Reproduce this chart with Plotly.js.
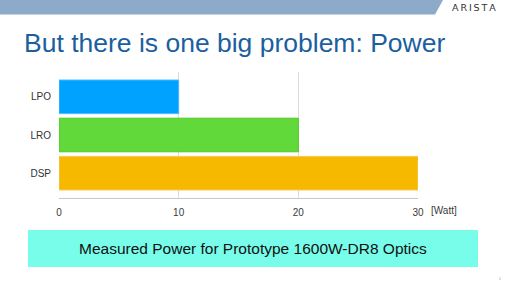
<!DOCTYPE html>
<html>
<head>
<meta charset="utf-8">
<script src="https://cdn.plot.ly/plotly-3.0.1.min.js"></script>
<style>html,body{margin:0;padding:0;background:#fff;}#chart{width:512px;height:287px;}</style>
</head>
<body>
<div id="chart"></div>
<script>
// Data
var categories = ['LPO', 'LRO', 'DSP'];
var powerWatt = [10, 20, 30];
var barColors = ['#00a2ff', '#62d93b', '#f6b900'];
var barLineColors = ['#4dbaff', '#4fcb22', '#f5c85a'];
var xTickValues = [0, 10, 20, 30];
var unitLabel = '[Watt]';
var titleText = 'But there is one big problem: Power';
var captionText = 'Measured Power for Prototype 1600W-DR8 Optics';
var logoText = 'ARISTA';

var W = 512, H = 287;
var L = 59, R = 418, T = 72, B = 198;
function px(x) { return (x - L) / (R - L); }
function py(y) { return (B - y) / (B - T); }

var trace = {
  type: 'bar',
  orientation: 'h',
  y: categories,
  x: powerWatt,
  marker: { color: barColors, line: { color: barLineColors, width: 1 } },
  width: 0.88,
  hoverinfo: 'none'
};

var layout = {
  width: W, height: H,
  margin: { l: L, r: W - R, t: T, b: H - B, pad: 0 },
  paper_bgcolor: '#ffffff',
  plot_bgcolor: '#ffffff',
  showlegend: false,
  font: { family: 'Liberation Sans, Arial, sans-serif', color: '#333333' },
  title: {
    text: titleText,
    font: { family: 'Liberation Sans, Arial, sans-serif', size: 26.5, color: '#1c5f9e' },
    xref: 'container', yref: 'container',
    x: 24 / W, xanchor: 'left',
    y: 1 - 43 / H, yanchor: 'middle'
  },
  xaxis: {
    range: [0, 30],
    tickvals: xTickValues,
    ticktext: xTickValues.map(String),
    showgrid: true, gridcolor: '#dcdcdc', gridwidth: 1,
    zeroline: false,
    showline: true, linecolor: '#c8c8c8', linewidth: 1,
    ticks: 'outside', ticklen: 5, tickcolor: 'rgba(0,0,0,0)',
    tickfont: { size: 10, color: '#3a3a3a' },
    fixedrange: true
  },
  yaxis: {
    type: 'category',
    categoryorder: 'array', categoryarray: categories,
    range: [2.65, -0.65],
    showgrid: false, zeroline: false, showline: false,
    ticks: 'outside', ticklen: 5, tickcolor: 'rgba(0,0,0,0)',
    tickfont: { size: 10, color: '#333333' },
    fixedrange: true
  },
  shapes: [
    { type: 'path', xref: 'paper', yref: 'paper', layer: 'below',
      path: 'M ' + px(0) + ' ' + py(0) + ' L ' + px(443) + ' ' + py(0) + ' L ' + px(435) + ' ' + py(14.5) + ' L ' + px(0) + ' ' + py(14.5) + ' Z',
      fillcolor: '#8eaac9', line: { width: 0 } },
    { type: 'rect', xref: 'paper', yref: 'paper', layer: 'below',
      x0: px(28), x1: px(478), y0: py(230), y1: py(267),
      fillcolor: '#77fdea', line: { width: 0 } }
  ],
  annotations: [
    { xref: 'paper', yref: 'paper', x: px(429), y: py(210), xanchor: 'left', yanchor: 'middle',
      text: unitLabel, showarrow: false, font: { size: 10, color: '#3a3a3a' } },
    { xref: 'paper', yref: 'paper', x: px(253), y: py(248.5), xanchor: 'center', yanchor: 'middle',
      text: captionText, showarrow: false, font: { size: 15.5, color: '#111111' } },
    { xref: 'paper', yref: 'paper', x: px(474), y: py(7), xanchor: 'center', yanchor: 'middle',
      text: logoText.split('').join('\u2009'), showarrow: false,
      font: { family: 'DejaVu Sans, sans-serif', size: 9.5, color: '#333333' } },
    { xref: 'paper', yref: 'paper', x: px(500), y: py(279), xanchor: 'center', yanchor: 'middle',
      text: '1', showarrow: false, font: { size: 3, color: '#5577aa' } }
  ]
};

Plotly.newPlot('chart', [trace], layout, { displayModeBar: false, staticPlot: true });
</script>
</body>
</html>
